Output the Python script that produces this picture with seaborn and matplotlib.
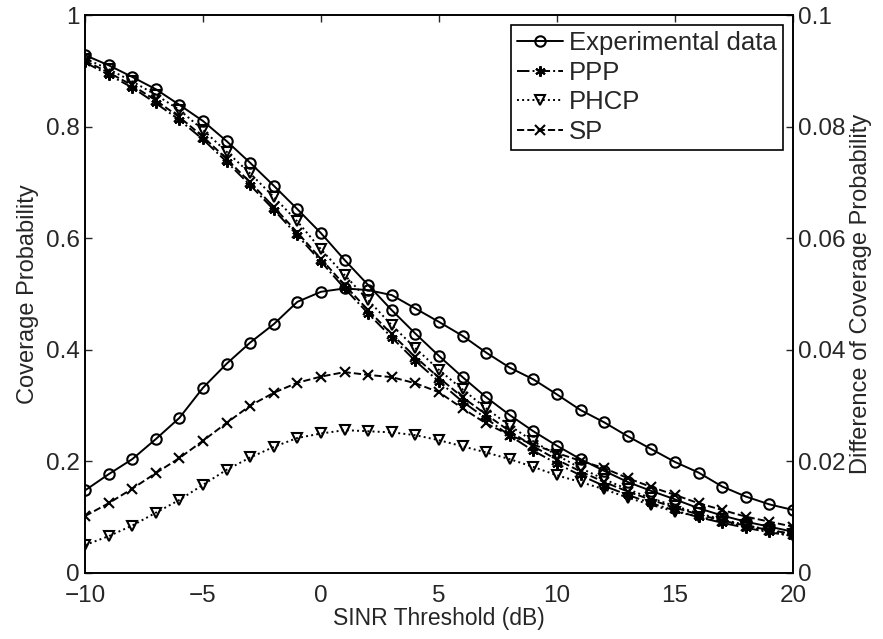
import numpy as np
import seaborn as sns
import matplotlib
matplotlib.use("Agg")
import matplotlib.pyplot as plt
from matplotlib.ticker import FuncFormatter

# SINR threshold (dB)
sinr = list(range(-10, 21))

# coverage probability (left axis)
cov_exp = [0.928, 0.910, 0.889, 0.867, 0.839, 0.810, 0.774, 0.735, 0.694, 0.652,
           0.609, 0.561, 0.516, 0.471, 0.429, 0.389, 0.351, 0.315, 0.283, 0.254,
           0.228, 0.204, 0.183, 0.163, 0.147, 0.132, 0.116, 0.103, 0.092, 0.083, 0.074]
cov_ppp = [0.915, 0.893, 0.870, 0.842, 0.812, 0.777, 0.737, 0.695, 0.651, 0.605,
           0.558, 0.510, 0.465, 0.422, 0.380, 0.343, 0.307, 0.277, 0.246, 0.219,
           0.196, 0.175, 0.156, 0.140, 0.125, 0.112, 0.100, 0.090, 0.081, 0.073, 0.066]
cov_phcp = [0.922, 0.903, 0.881, 0.857, 0.830, 0.794, 0.755, 0.716, 0.674, 0.630,
            0.580, 0.534, 0.489, 0.444, 0.403, 0.364, 0.329, 0.295, 0.264, 0.236,
            0.211, 0.188, 0.168, 0.150, 0.134, 0.120, 0.107, 0.096, 0.086, 0.077, 0.069]
cov_sp = [0.918, 0.897, 0.874, 0.847, 0.817, 0.782, 0.742, 0.700, 0.656, 0.610,
          0.563, 0.516, 0.471, 0.428, 0.387, 0.350, 0.315, 0.284, 0.254, 0.227,
          0.203, 0.182, 0.163, 0.146, 0.131, 0.117, 0.105, 0.094, 0.085, 0.077, 0.070]

# difference of coverage probability (right axis)
diff_ppp = [0.0148, 0.0177, 0.0204, 0.0240, 0.0278, 0.0332, 0.0375, 0.0413, 0.0446, 0.0486,
            0.0504, 0.0510, 0.0507, 0.0498, 0.0474, 0.0450, 0.0425, 0.0395, 0.0368, 0.0347,
            0.0320, 0.0292, 0.0270, 0.0245, 0.0222, 0.0199, 0.0180, 0.0155, 0.0137, 0.0123, 0.0113]
diff_sp = [0.0102, 0.0125, 0.0151, 0.0179, 0.0206, 0.0237, 0.0269, 0.0300, 0.0323, 0.0341,
           0.0352, 0.0360, 0.0355, 0.0351, 0.0340, 0.0324, 0.0295, 0.0268, 0.0247, 0.0230,
           0.0215, 0.0201, 0.0188, 0.0170, 0.0154, 0.0140, 0.0125, 0.0113, 0.0101, 0.0092, 0.0083]
diff_phcp = [0.0050, 0.0066, 0.0085, 0.0108, 0.0131, 0.0158, 0.0185, 0.0207, 0.0226, 0.0242,
             0.0250, 0.0256, 0.0254, 0.0252, 0.0247, 0.0238, 0.0227, 0.0216, 0.0204, 0.0190,
             0.0175, 0.0163, 0.0150, 0.0135, 0.0122, 0.0110, 0.0101, 0.0092, 0.0083, 0.0075, 0.0066]

sns.set_style("white")
plt.rcParams["font.family"] = ["Liberation Sans", "DejaVu Sans"]
plt.rcParams["font.size"] = 17

fig = plt.figure(figsize=(8.83, 6.39), dpi=100)
ax1 = fig.add_axes([0.0963, 0.1033, 0.8017, 0.8732])
ax2 = ax1.twinx()

lw = 1.4
ms = 7.5
common = dict(color="k", linewidth=lw, markersize=ms, markeredgewidth=1.5)
star = (6, 2, 0)

# coverage curves
sns.lineplot(x=sinr, y=cov_exp, ax=ax1, marker="o", linestyle="-",
             markerfacecolor="none", markeredgecolor="k", label="Experimental data", **common)
sns.lineplot(x=sinr, y=cov_ppp, ax=ax1, marker=star, linestyle="-.",
             markerfacecolor="k", markeredgecolor="k", label="PPP", **common)
sns.lineplot(x=sinr, y=cov_phcp, ax=ax1, marker="v", linestyle=":",
             markerfacecolor="none", markeredgecolor="k", label="PHCP", **common)
sns.lineplot(x=sinr, y=cov_sp, ax=ax1, marker="x", linestyle="--",
             markeredgecolor="k", label="SP", **common)

# difference curves
sns.lineplot(x=sinr, y=diff_ppp, ax=ax2, marker="o", linestyle="-",
             markerfacecolor="none", markeredgecolor="k", **common)
sns.lineplot(x=sinr, y=diff_sp, ax=ax2, marker="x", linestyle="--",
             markeredgecolor="k", **common)
sns.lineplot(x=sinr, y=diff_phcp, ax=ax2, marker="v", linestyle=":",
             markerfacecolor="none", markeredgecolor="k", **common)

fmt = FuncFormatter(lambda v, p: f"{v:g}")

ax1.set_xlim(-10, 20)
ax1.set_ylim(0, 1)
ax1.set_xticks([-10, -5, 0, 5, 10, 15, 20])
ax1.set_yticks([0, 0.2, 0.4, 0.6, 0.8, 1])
ax1.yaxis.set_major_formatter(fmt)
ax2.set_ylim(0, 0.1)
ax2.set_yticks([0, 0.02, 0.04, 0.06, 0.08, 0.1])
ax2.yaxis.set_major_formatter(fmt)

ax1.tick_params(axis="x", direction="in", top=True, length=5, width=1, labelsize=17.5, pad=8.5)
ax1.tick_params(axis="y", direction="in", right=False, length=5, width=1, labelsize=17.5, pad=4)
ax2.tick_params(axis="y", direction="in", length=5, width=1, labelsize=17.5, pad=4)

ax1.set_xlabel("SINR Threshold (dB)", fontsize=16.5, labelpad=0)
ax1.set_ylabel("Coverage Probability", fontsize=17, labelpad=5)
ax2.set_ylabel("Difference of Coverage Probability", fontsize=17, labelpad=3)

for a in (ax1, ax2):
    for s in a.spines.values():
        s.set_color("k")
        s.set_linewidth(1.2)

if ax2.get_legend() is not None:
    ax2.get_legend().remove()
leg = ax1.legend(loc="upper right", fontsize=18.5, frameon=True, fancybox=False,
                 edgecolor="k", framealpha=1, handlelength=1.8, handletextpad=0.25,
                 labelspacing=0.22, borderaxespad=0.4, borderpad=0.22)
leg.get_frame().set_linewidth(1.2)
leg.set_zorder(10)
ax1.set_zorder(ax2.get_zorder() + 1)
ax1.patch.set_visible(False)

fig.savefig("out.png", dpi=100)
